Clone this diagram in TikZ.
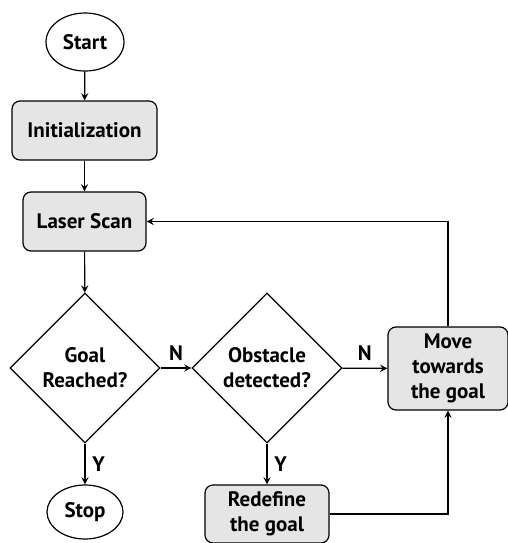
\documentclass[tikz,border=0pt]{standalone}
\usepackage{fontspec}
\setmainfont{PT Sans}
\usetikzlibrary{shapes.geometric}
\tikzset{
  every node/.style={font=\fontsize{10.5}{12.5}\selectfont\bfseries},
  term/.style={draw,ellipse,inner sep=0pt,minimum width=39pt,minimum height=29pt},
  proc/.style={draw,rectangle,rounded corners=4pt,fill=gray!20,align=center,inner sep=0pt},
  decide/.style={draw,diamond,align=center,inner sep=0pt,minimum width=75pt,minimum height=75pt},
  arr/.style={-stealth,line width=0.6pt}
}
\begin{document}
\begin{tikzpicture}[x=0.5pt,y=-0.5pt,line width=0.6pt]
\useasboundingbox (0,0) rectangle (508,543);
%
\node[term](start) at (85,42){Start};
\node[proc,minimum width=72.5pt,minimum height=29.5pt](init) at (84.5,130.5){Initialization};
\node[proc,minimum width=61.5pt,minimum height=29.5pt](scan) at (84.5,221.5){Laser Scan};
\node[decide](goal) at (85,368){Goal\\Reached?};
\node[term,minimum width=38pt,minimum height=27pt](stop) at (85,512){Stop};
\node[decide](obst) at (267,368){Obstacle\\detected?};
\node[proc,minimum width=60pt,minimum height=41.5pt](move) at (448,368.5){Move\\towards\\the goal};
\node[proc,minimum width=62pt,minimum height=29pt](redef) at (267,514){Redefine\\the goal};
%
\draw[arr](start)--(init);
\draw[arr](init)--(scan);
\draw[arr](scan)--(goal);
\draw[arr](goal)--node[above]{N}(obst);
\draw[arr](obst)--node[above]{N}(move);
\draw[arr](goal)--node[right]{Y}(stop);
\draw[arr](obst)--node[right]{Y}(redef);
\draw[arr](move.north)|-(scan.east);
\draw[arr](redef.east)-|(move.south);
\end{tikzpicture}
\end{document}
